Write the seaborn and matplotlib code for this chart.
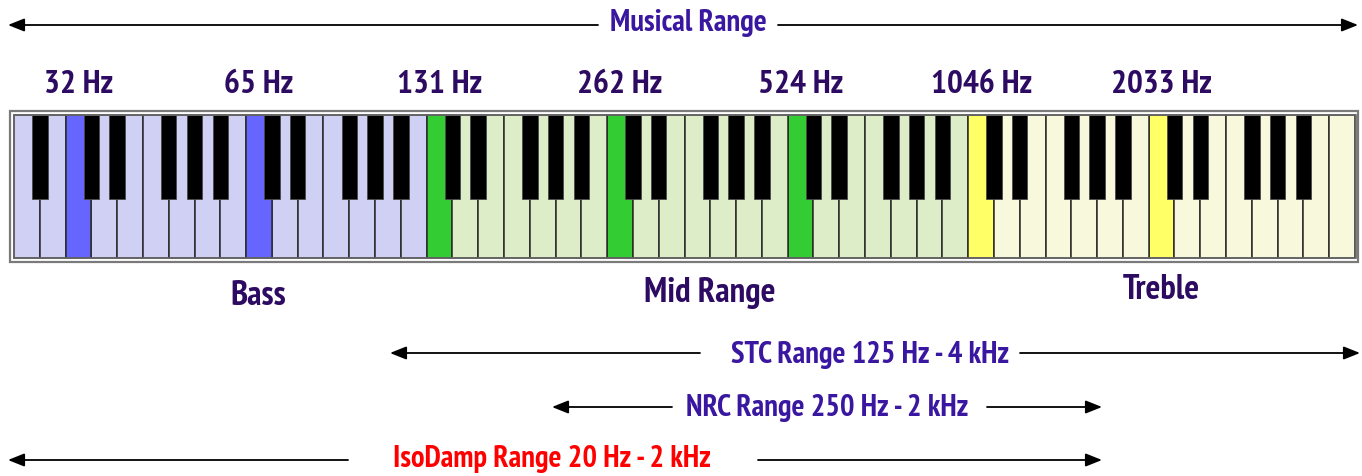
import matplotlib
matplotlib.use("Agg")
import matplotlib.pyplot as plt
import matplotlib.patches as mpatches
import seaborn as sns
import pandas as pd
import numpy as np

# ---------------- data ----------------
n_white = 52
note_cycle = ["A", "B", "C", "D", "E", "F", "G"]
black_after = ["A", "C", "D", "F", "G"]
region_names = ["Bass", "Mid Range", "Treble"]
region_start = [0, 16, 37]           # first white-key index of each region
c_key_index = [2, 9, 16, 23, 30, 37, 44]
c_key_labels = ["32 Hz", "65 Hz", "131 Hz", "262 Hz", "524 Hz", "1046 Hz", "2033 Hz"]
range_labels = ["STC Range 125 Hz - 4 kHz", "NRC Range 250 Hz - 2 kHz", "IsoDamp Range 20 Hz - 2 kHz"]

# ---------------- styling ----------------
sns.set_theme(style="white")
FONT = ["PT Sans Narrow", "Fira Sans Condensed", "IBM Plex Sans Condensed", "DejaVu Sans"]
plt.rcParams["font.family"] = FONT

DARK = "#2d0b62"
PURPLE = "#3a17a0"
RED = "#ff0000"
palette = {
    "Bass": "#d0d0f4", "Bass_C": "#6666ff",
    "Mid Range": "#dcedc8", "Mid Range_C": "#33cc33",
    "Treble": "#f8f8dc", "Treble_C": "#ffff66",
}

W, H = 1362, 476
fig = plt.figure(figsize=(W / 100, H / 100), dpi=100)

# keyboard axes (x in white-key units, y 0..1)
kb_left, kb_right, kb_top, kb_bot = 14, 1355, 115, 258
ax = fig.add_axes([kb_left / W, (H - kb_bot) / H, (kb_right - kb_left) / W, (kb_bot - kb_top) / H])

rows = []
for i in range(n_white):
    reg = region_names[np.searchsorted(region_start, i, side="right") - 1]
    lab = reg + "_C" if i in c_key_index else reg
    rows.append({"x": i + 0.5, "h": 1.0, "kind": lab})
df = pd.DataFrame(rows)

sns.barplot(data=df, x="x", y="h", hue="kind", palette=palette, native_scale=True,
            width=1.0, dodge=False, errorbar=None, legend=False, saturation=1,
            edgecolor="#2a2a2a", linewidth=1.1, ax=ax)
for p in ax.patches:
    p.set_clip_on(False)

bx = [i + 1 for i in range(n_white - 1) if note_cycle[i % 7] in black_after]
ax.bar(bx, [0.587] * len(bx), bottom=0.413, width=0.6, color="black",
       edgecolor="#4a4a4a", linewidth=0.6, zorder=5, clip_on=False)

ax.set_xlim(0, n_white)
ax.set_ylim(0, 1)
ax.axis("off")

for idx, lab in zip(c_key_index, c_key_labels):
    ax.text(idx + 0.5, (kb_bot - 93) / (kb_bot - kb_top), lab, ha="center", va="baseline",
            fontsize=24, fontweight=900, color=DARK, clip_on=False)

# overlay axes in pixel coordinates
ov = fig.add_axes([0, 0, 1, 1], zorder=10)
ov.set_xlim(0, W)
ov.set_ylim(H, 0)
ov.axis("off")
ov.patch.set_alpha(0)

# frame
ov.add_patch(mpatches.Rectangle((9.5, 110.5), 1348.5, 151, fill=False, edgecolor="#7a7a7a", lw=1.6))
ov.add_patch(mpatches.Rectangle((13.5, 114.5), 1342, 143.5, fill=False, edgecolor="#6a6a6a", lw=1.2))

def arrow(x_tail, x_tip, y):
    ov.annotate("", xy=(x_tip, y), xytext=(x_tail, y),
                arrowprops=dict(arrowstyle="-|>,head_length=0.55,head_width=0.22",
                                mutation_scale=18, color="black", lw=1.3,
                                shrinkA=0, shrinkB=0))

# Musical range
ov.text(688, 31, "Musical Range", ha="center", va="baseline", fontsize=22, fontweight=600, color=PURPLE)
arrow(598, 8, 25)
arrow(778, 1358, 25)

# region labels
ov.text(258, 305, region_names[0], ha="center", va="baseline", fontsize=25, fontweight=900, color=DARK)
ov.text(710, 302, region_names[1], ha="center", va="baseline", fontsize=25, fontweight=900, color=DARK)
ov.text(1161, 299, region_names[2], ha="center", va="baseline", fontsize=25, fontweight=900, color=DARK)

# measurement ranges
ov.text(870, 363, range_labels[0], ha="center", va="baseline", fontsize=22, fontweight=600, color=PURPLE)
arrow(700, 390, 353)
arrow(1020, 1360, 353)

ov.text(827, 416, range_labels[1], ha="center", va="baseline", fontsize=22, fontweight=600, color=PURPLE)
arrow(672, 552, 407)
arrow(987, 1102, 407)

ov.text(552, 467, range_labels[2], ha="center", va="baseline", fontsize=22, fontweight=600, color=RED)
arrow(348, 8, 460)
arrow(758, 1102, 460)

fig.savefig("out.png", dpi=100, facecolor="white")
